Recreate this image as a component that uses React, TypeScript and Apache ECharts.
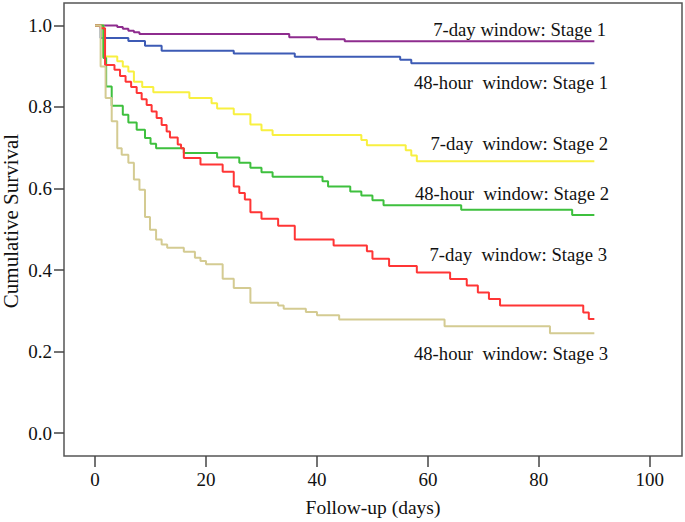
import React, { useEffect, useRef } from "react";
import * as echarts from "echarts";

const xTicks = [0, 20, 40, 60, 80, 100];
const yTicks = [0, 0.2, 0.4, 0.6, 0.8, 1.0];

const sevenDayStage1: number[][] = [
  [0, 1], [4, 0.996], [5, 0.992], [6, 0.987], [7, 0.983], [8, 0.979],
  [35, 0.971], [40, 0.966], [45, 0.961], [90, 0.961],
];
const hour48Stage1: number[][] = [
  [0, 1], [1, 0.969], [6, 0.962], [9, 0.95], [12, 0.938], [25, 0.931],
  [36, 0.923], [55, 0.916], [57, 0.907], [90, 0.907],
];
const sevenDayStage2: number[][] = [
  [0, 1], [1.5, 0.924], [4, 0.912], [5, 0.899], [6, 0.887], [7, 0.862],
  [8.5, 0.849], [10.5, 0.836], [17, 0.822], [21, 0.809], [22, 0.796],
  [25, 0.782], [28, 0.757], [30, 0.743], [32, 0.731], [48, 0.719],
  [49, 0.706], [56, 0.694], [57, 0.681], [58, 0.667], [90, 0.667],
];
const hour48Stage2: number[][] = [
  [0, 1], [1.5, 0.92], [2, 0.85], [3, 0.803], [5, 0.781], [6, 0.762],
  [7.5, 0.744], [9, 0.724], [10, 0.71], [11, 0.699], [16, 0.687],
  [22, 0.676], [26, 0.663], [28, 0.651], [30, 0.64], [32, 0.629],
  [41, 0.618], [42, 0.605], [46, 0.593], [48, 0.583], [50, 0.571],
  [52, 0.559], [66, 0.548], [86, 0.535], [90, 0.535],
];
const sevenDayStage3: number[][] = [
  [0, 1], [1, 0.993], [1.8, 0.903], [3.5, 0.891], [4.5, 0.876], [5.5, 0.862],
  [6.5, 0.849], [7.5, 0.834], [8.4, 0.819], [9.3, 0.805], [10.2, 0.789],
  [11.1, 0.773], [12, 0.756], [12.9, 0.74], [13.5, 0.725], [14.9, 0.708],
  [15.5, 0.699], [16, 0.675], [19, 0.659], [23, 0.641], [25, 0.605],
  [26, 0.589], [27, 0.573], [28, 0.542], [30, 0.526], [33, 0.509],
  [36, 0.475], [43, 0.46], [49, 0.446], [50, 0.428], [53, 0.41],
  [58, 0.394], [64, 0.378], [67, 0.362], [69, 0.345], [71, 0.329],
  [73, 0.313], [88, 0.296], [89, 0.28], [90, 0.28],
];
const hour48Stage3: number[][] = [
  [0, 1], [1, 0.899], [1.9, 0.822], [3, 0.765], [4, 0.699], [4.8, 0.683],
  [6, 0.663], [7, 0.622], [8, 0.597], [9, 0.53], [9.9, 0.499], [11, 0.475],
  [12, 0.463], [13, 0.455], [16, 0.445], [18, 0.43], [19, 0.422], [20, 0.414],
  [23, 0.379], [25, 0.356], [28, 0.32], [33, 0.313], [34, 0.305],
  [38, 0.297], [40, 0.289], [44, 0.279], [63, 0.262], [82, 0.245], [90, 0.245],
];

const seriesNames = [
  "7-day window: Stage 1",
  "48-hour\u00a0 window: Stage 1",
  "7-day\u00a0 window: Stage 2",
  "48-hour\u00a0 window: Stage 2",
  "7-day\u00a0 window: Stage 3",
  "48-hour\u00a0 window: Stage 3",
];
const seriesData = [
  sevenDayStage1, hour48Stage1, sevenDayStage2,
  hour48Stage2, sevenDayStage3, hour48Stage3,
];
const seriesColors = ["#8E2C8E", "#3D5BB5", "#F8F040", "#3EC03E", "#FF3535", "#D4CB92"];

const xTitle = "Follow-up (days)";
const yTitle = "Cumulative Survival";

const labelRight = [606, 608, 608, 609, 607, 608];
const labelY = [29, 82, 143.5, 193.5, 254.5, 353];

const FONT = "'Liberation Serif', 'Times New Roman', serif";

export default function App() {
  const ref = useRef<HTMLDivElement>(null);
  useEffect(() => {
    if (!ref.current) return;
    const chart = echarts.init(ref.current, undefined, { renderer: "svg" });
    chart.setOption({
      animation: false,
      backgroundColor: "#ffffff",
      textStyle: { fontFamily: FONT },
      grid: {
        left: 64, right: 3, top: 3, bottom: 65,
        show: true, borderColor: "#555", borderWidth: 1.5, backgroundColor: "#fff",
      },
      xAxis: {
        type: "value",
        min: -5.6,
        max: 105.8,
        name: xTitle,
        nameLocation: "middle",
        nameGap: 41,
        nameTextStyle: { fontFamily: FONT, fontSize: 19.5, color: "#111" },
        axisLine: { show: false, onZero: false },
        axisTick: {
          show: true, length: 11, inside: false, customValues: xTicks,
          lineStyle: { color: "#444", width: 1.5 },
        },
        axisLabel: {
          customValues: xTicks, margin: 14,
          fontFamily: FONT, fontSize: 19, color: "#111",
        },
        splitLine: { show: false },
      },
      yAxis: {
        type: "value",
        min: -0.056,
        max: 1.055,
        axisLine: { show: false, onZero: false },
        axisTick: {
          show: true, length: 10, inside: false, customValues: yTicks,
          lineStyle: { color: "#444", width: 1.5 },
        },
        axisLabel: {
          customValues: yTicks, margin: 12,
          fontFamily: FONT, fontSize: 19, color: "#111",
          formatter: (v: number) => v.toFixed(1),
        },
        splitLine: { show: false },
      },
      series: seriesData.map((d, i) => ({
        type: "line",
        name: seriesNames[i],
        step: "end",
        data: d,
        showSymbol: false,
        symbol: "none",
        lineStyle: { color: seriesColors[i], width: 2 },
        itemStyle: { color: seriesColors[i] },
        z: 2 + i,
      })),
      graphic: [
        ...seriesNames.map((t, i) => ({
          type: "text",
          x: labelRight[i],
          y: labelY[i],
          style: {
            text: t,
            fontFamily: FONT,
            fontSize: 18.7,
            fill: "#111",
            textAlign: "right",
            textVerticalAlign: "middle",
          },
        })),
        {
          type: "text",
          x: 11,
          y: 221,
          rotation: Math.PI / 2,
          style: {
            text: yTitle,
            fontFamily: FONT,
            fontSize: 21,
            fill: "#111",
            textAlign: "center",
            textVerticalAlign: "middle",
          },
        },
      ],
    });
    return () => chart.dispose();
  }, []);
  return (
    <div
      ref={ref}
      style={{ position: "absolute", left: 0, top: 0, width: 685, height: 522 }}
    />
  );
}
